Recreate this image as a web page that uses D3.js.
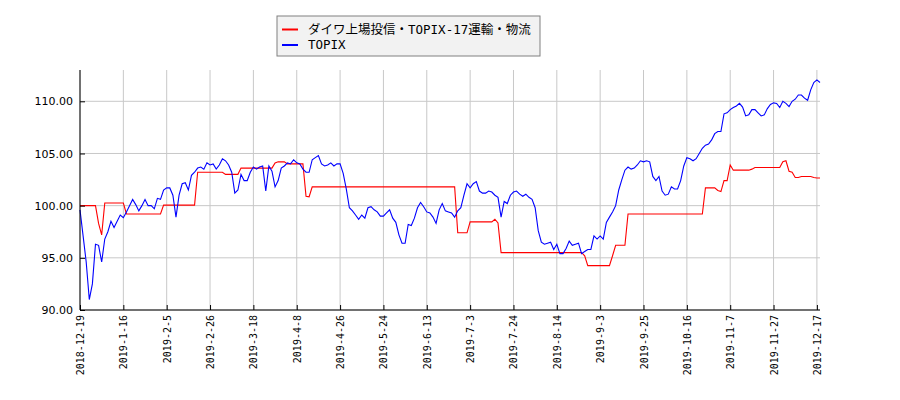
<!DOCTYPE html>
<html>
<head>
<meta charset="utf-8">
<script src="https://d3js.org/d3.v7.min.js"></script>
<style>
  body { margin: 0; background: #fff; }
</style>
</head>
<body>
<div id="graph"></div>
<script>
// trading-day x labels, one every 14 sessions
const tickLabels = ['2018-12-19', '2019-1-16', '2019-2-5', '2019-2-26', '2019-3-18', '2019-4-8',
    '2019-4-26', '2019-5-24', '2019-6-13', '2019-7-3', '2019-7-24', '2019-8-14', '2019-9-3',
    '2019-9-25', '2019-10-16', '2019-11-7', '2019-11-27', '2019-12-17'];
const tickStep = 14;
const yTicks = [90, 95, 100, 105, 110];

const seriesNames = ['ダイワ上場投信・TOPIX-17運輸・物流', 'TOPIX'];

const ratio = [
    100.0, 100.0, 100.0, 100.0, 100.0, 100.0, 98.3, 97.2, 100.25, 100.25,
    100.25, 100.25, 100.25, 100.25, 100.25, 99.2, 99.2, 99.2, 99.2, 99.2,
    99.2, 99.2, 99.2, 99.2, 99.2, 99.2, 99.2, 100.05, 100.05, 100.05,
    100.05, 100.05, 100.05, 100.05, 100.05, 100.05, 100.05, 100.05, 103.2, 103.2,
    103.2, 103.2, 103.2, 103.2, 103.2, 103.2, 103.2, 103.0, 103.0, 103.0,
    103.0, 103.0, 103.6, 103.6, 103.6, 103.6, 103.6, 103.6, 103.6, 103.6,
    103.6, 103.6, 103.6, 104.1, 104.2, 104.2, 104.2, 104.0, 104.0, 104.0,
    104.0, 104.0, 104.0, 100.9, 100.85, 101.8, 101.8, 101.8, 101.8, 101.8,
    101.8, 101.8, 101.8, 101.8, 101.8, 101.8, 101.8, 101.8, 101.8, 101.8,
    101.8, 101.8, 101.8, 101.8, 101.8, 101.8, 101.8, 101.8, 101.8, 101.8,
    101.8, 101.8, 101.8, 101.8, 101.8, 101.8, 101.8, 101.8, 101.8, 101.8,
    101.8, 101.8, 101.8, 101.8, 101.8, 101.8, 101.8, 101.8, 101.8, 101.8,
    101.8, 101.8, 97.4, 97.4, 97.4, 97.4, 98.45, 98.45, 98.45, 98.45,
    98.45, 98.45, 98.45, 98.45, 98.7, 98.35, 95.5, 95.5, 95.5, 95.5,
    95.5, 95.5, 95.5, 95.5, 95.5, 95.5, 95.5, 95.5, 95.5, 95.5,
    95.5, 95.5, 95.5, 95.5, 95.5, 95.5, 95.5, 95.5, 95.5, 95.5,
    95.5, 95.5, 95.5, 95.2, 94.25, 94.25, 94.25, 94.25, 94.25, 94.25,
    94.25, 94.25, 95.2, 96.2, 96.2, 96.2, 96.2, 99.2, 99.2, 99.2,
    99.2, 99.2, 99.2, 99.2, 99.2, 99.2, 99.2, 99.2, 99.2, 99.2,
    99.2, 99.2, 99.2, 99.2, 99.2, 99.2, 99.2, 99.2, 99.2, 99.2,
    99.2, 99.2, 101.7, 101.7, 101.7, 101.7, 101.45, 101.35, 102.4, 102.4,
    103.9, 103.4, 103.4, 103.4, 103.4, 103.4, 103.4, 103.5, 103.65, 103.65,
    103.65, 103.65, 103.65, 103.65, 103.65, 103.65, 103.65, 104.2, 104.3, 103.3,
    103.2, 102.7, 102.7, 102.8, 102.8, 102.8, 102.8, 102.7, 102.65, 102.65
];

const topix = [
    99.6, 97.1, 94.6, 91.0, 92.5, 96.3, 96.2, 94.6, 96.8, 97.5,
    98.5, 97.9, 98.5, 99.1, 98.85, 99.4, 100.0, 100.6, 100.1, 99.5,
    100.0, 100.6, 100.0, 100.0, 99.7, 100.7, 100.6, 101.5, 101.7, 101.7,
    101.0, 98.9, 101.0, 102.1, 102.2, 101.5, 102.9, 103.2, 103.6, 103.7,
    103.5, 104.1, 103.9, 104.0, 103.5, 103.9, 104.5, 104.3, 103.9, 103.2,
    101.2, 101.5, 103.0, 102.4, 102.4, 103.2, 103.7, 103.5, 103.7, 103.8,
    101.4, 103.8, 103.3, 101.8, 102.4, 103.6, 103.8, 104.1, 104.0, 104.4,
    104.1, 104.0, 103.5, 103.2, 103.2, 104.4, 104.6, 104.8, 104.0, 103.8,
    103.9, 104.1, 103.8, 104.0, 104.0, 103.1, 101.6, 99.8, 99.5, 99.1,
    98.7, 99.1, 98.8, 99.8, 99.9, 99.6, 99.4, 99.0, 99.0, 99.3,
    99.6, 98.8, 98.4, 97.2, 96.4, 96.4, 98.2, 98.1, 98.8, 99.8,
    100.3, 99.9, 99.4, 99.3, 98.9, 98.3, 99.6, 100.2, 99.5, 99.4,
    99.3, 98.9, 99.5, 99.8, 101.0, 102.1, 101.7, 102.1, 102.3, 101.4,
    101.2, 101.2, 101.4, 101.3, 101.0, 100.8, 98.9, 100.4, 100.2, 101.0,
    101.3, 101.4, 101.1, 100.9, 101.1, 100.8, 100.6, 99.8, 97.6, 96.5,
    96.3, 96.4, 96.5, 95.8, 96.3, 95.4, 95.4, 95.9, 96.6, 96.2,
    96.3, 96.4, 95.4, 95.6, 95.8, 95.8, 97.1, 96.8, 97.1, 96.8,
    98.4, 98.9, 99.4, 100.0, 101.5, 102.5, 103.4, 103.7, 103.5, 103.6,
    103.9, 104.3, 104.2, 104.3, 104.2, 102.8, 102.4, 102.8, 101.4, 101.0,
    101.1, 101.8, 101.6, 101.6, 102.4, 103.8, 104.6, 104.5, 104.3, 104.5,
    105.0, 105.5, 105.8, 105.9, 106.3, 106.9, 107.1, 107.1, 108.8, 108.9,
    109.2, 109.4, 109.55, 109.8, 109.45, 108.6, 108.7, 109.2, 109.2, 108.9,
    108.6, 108.7, 109.3, 109.7, 109.85, 109.8, 109.4, 110.0, 109.8, 109.5,
    110.0, 110.2, 110.6, 110.6, 110.3, 110.1, 111.1, 111.8, 112.05, 111.8
];

const width = 900;
const height = 400;
const plotLeft = 80, plotRight = 820, plotTop = 70, plotBottom = 310;

const xScale = d3.scaleLinear()
    .domain([0, topix.length - 1])
    .range([plotLeft, plotRight]);

const yScale = d3.scaleLinear()
    .domain([90, 113])
    .range([plotBottom, plotTop]);

const tickIdx = tickLabels.map((d, i) => i * tickStep);

const svg = d3.select('#graph')
    .append('svg')
    .attr('width', width)
    .attr('height', height);

// grid
svg.append('g')
    .selectAll('line')
    .data(tickIdx)
    .join('line')
    .attr('x1', d => xScale(d)).attr('x2', d => xScale(d))
    .attr('y1', plotTop).attr('y2', plotBottom)
    .attr('stroke', '#c8c8c8').attr('stroke-width', 1);

svg.append('g')
    .selectAll('line')
    .data(yTicks)
    .join('line')
    .attr('x1', plotLeft).attr('x2', plotRight)
    .attr('y1', d => yScale(d)).attr('y2', d => yScale(d))
    .attr('stroke', '#c8c8c8').attr('stroke-width', 1);

const plotLine = d3.line()
    .x((d, i) => xScale(i))
    .y(d => yScale(d));

svg.append('path')
    .datum(ratio)
    .attr('fill', 'none')
    .attr('stroke', '#ff0000')
    .attr('stroke-width', 1.1)
    .attr('d', plotLine);

svg.append('path')
    .datum(topix)
    .attr('fill', 'none')
    .attr('stroke', '#0000ff')
    .attr('stroke-width', 1.1)
    .attr('d', plotLine);

// axes, ticks pointing inward
const yAxis = svg.append('g')
    .attr('transform', `translate(${plotLeft}, 0)`)
    .call(d3.axisLeft(yScale).tickValues(yTicks).tickFormat(d3.format('.2f'))
        .tickSize(-5).tickSizeOuter(0).tickPadding(7));
yAxis.select('.domain').attr('d', `M0,${plotTop}V${plotBottom}`);
yAxis.selectAll('text')
    .attr('font-family', '"DejaVu Sans", sans-serif')
    .attr('font-size', 11)
    .attr('fill', '#000');

const xAxis = svg.append('g')
    .attr('transform', `translate(0, ${plotBottom})`)
    .call(d3.axisBottom(xScale).tickValues(tickIdx).tickFormat((d, i) => tickLabels[i])
        .tickSize(-5).tickSizeOuter(0));
xAxis.select('.domain').attr('d', `M${plotLeft},0H${plotRight}`);
xAxis.selectAll('text')
    .attr('transform', 'rotate(-90)')
    .attr('x', -5)
    .attr('y', 0)
    .attr('dy', '0.35em')
    .attr('text-anchor', 'end')
    .attr('font-family', '"DejaVu Sans Mono", monospace')
    .attr('font-size', 10)
    .attr('fill', '#000');

// legend
const legend = svg.append('g');
legend.append('rect')
    .attr('x', 277).attr('y', 16)
    .attr('width', 263).attr('height', 40)
    .attr('fill', '#f2f2f2')
    .attr('stroke', '#808080');

const legendColors = ['#ff0000', '#0000ff'];
seriesNames.forEach((name, i) => {
    const ly = 29.5 + i * 15.5;
    legend.append('line')
        .attr('x1', 282).attr('x2', 298)
        .attr('y1', ly).attr('y2', ly)
        .attr('stroke', legendColors[i]).attr('stroke-width', 2);
    legend.append('text')
        .attr('x', 308).attr('y', ly)
        .attr('dy', '0.35em')
        .attr('font-family', '"DejaVu Sans Mono", "Noto Sans CJK JP", monospace')
        .attr('font-size', 12.5)
        .attr('fill', '#000')
        .text(name);
});
</script>
</body>
</html>
